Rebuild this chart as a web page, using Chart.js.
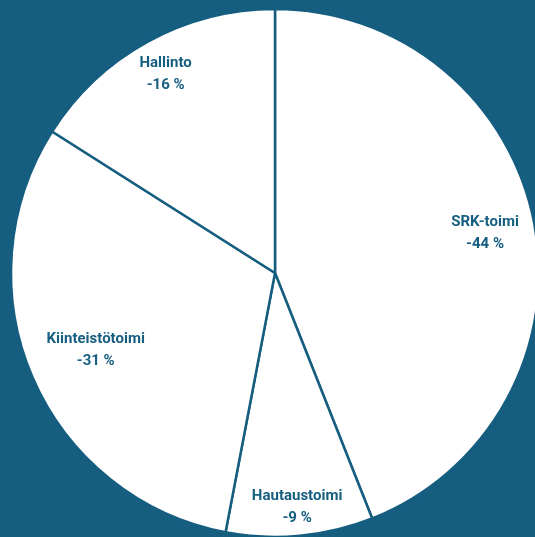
<!DOCTYPE html>
<html lang="fi">
<head>
<meta charset="utf-8">
<script src="https://cdn.jsdelivr.net/npm/chart.js@4"></script>
<style>
  html, body { margin: 0; padding: 0; background: #165e80; overflow: hidden; }
  #wrap { position: absolute; left: 0; top: 0; }
</style>
</head>
<body>
<div id="wrap"><canvas id="pie" width="550" height="546"></canvas></div>
<script>
const labels = ["SRK-toimi", "Hautaustoimi", "Kiinteistötoimi", "Hallinto"];
const shares = [44, 9, 31, 16];

const navy = "#165e80";

// distance of each label from the pie centre, as a part of the radius
const labelDist = [0.81, 0.89, 0.74, 0.86];

// writes the name and the share inside each slice
const sliceLabels = {
  id: "sliceLabels",
  afterDatasetsDraw(chart) {
    const ctx = chart.ctx;
    const arcs = chart.getDatasetMeta(0).data;
    ctx.save();
    ctx.fillStyle = navy;
    ctx.font = "bold 15px Roboto";
    ctx.textAlign = "center";
    ctx.textBaseline = "middle";
    arcs.forEach((arc, i) => {
      const mid = (arc.startAngle + arc.endAngle) / 2;
      const r = arc.outerRadius * labelDist[i];
      const x = arc.x + Math.cos(mid) * r;
      const y = arc.y + Math.sin(mid) * r;
      ctx.fillText(labels[i], x, y - 11);
      ctx.fillText("-" + shares[i] + " %", x, y + 11);
    });
    ctx.restore();
  }
};

new Chart(document.getElementById("pie"), {
  type: "pie",
  data: {
    labels,
    datasets: [{
      data: shares,
      backgroundColor: "#ffffff",
      borderColor: navy,
      borderWidth: 2.5
    }]
  },
  options: {
    responsive: false,
    animation: false,
    radius: 264,
    layout: { padding: 0 },
    plugins: {
      legend: { display: false },
      tooltip: { enabled: false }
    }
  },
  plugins: [sliceLabels]
});
</script>
</body>
</html>
